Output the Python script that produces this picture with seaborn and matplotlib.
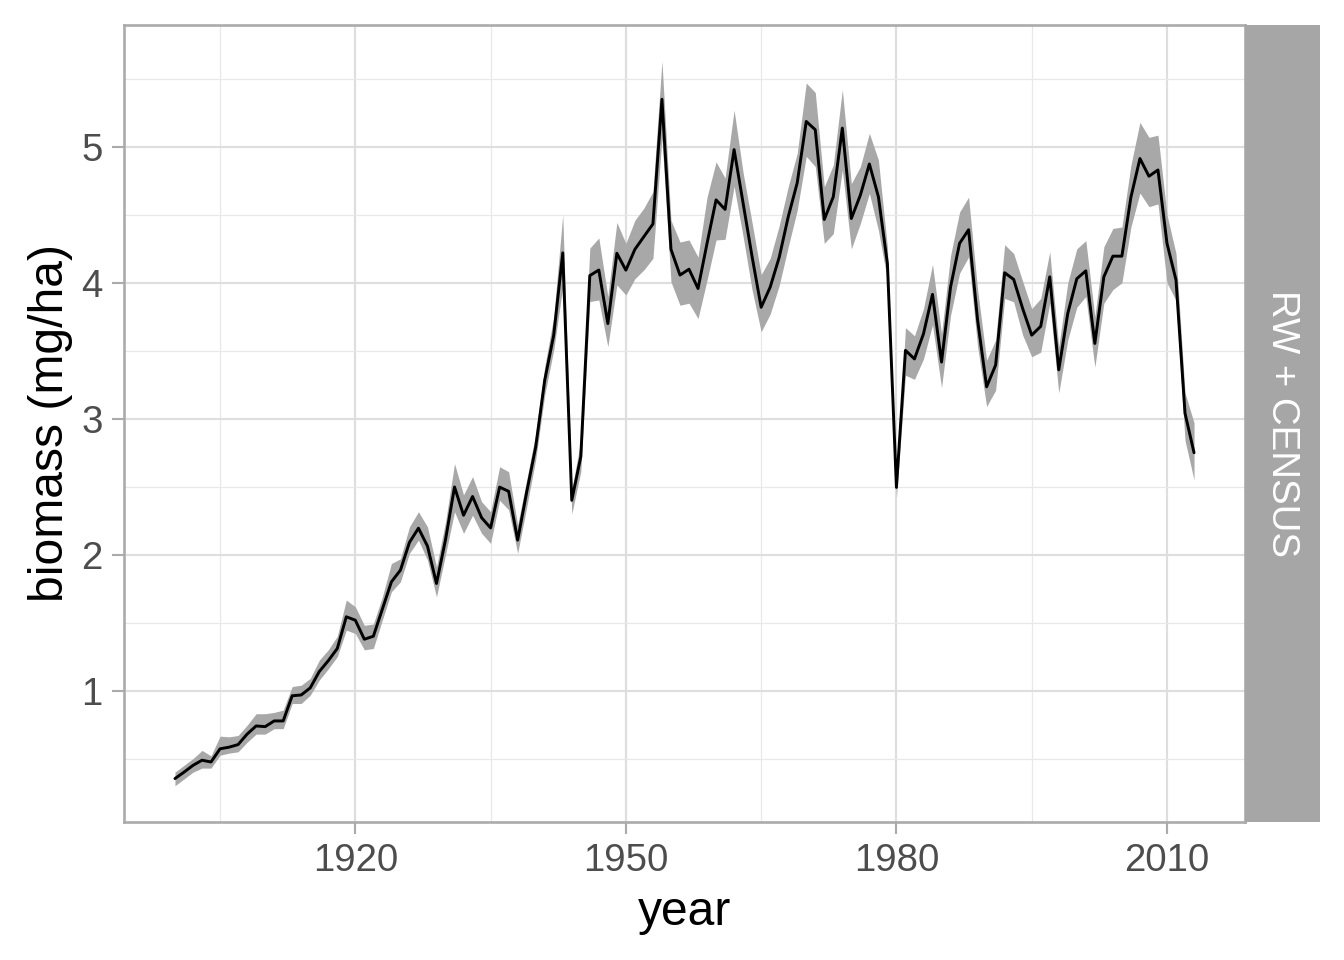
import numpy as np
import pandas as pd
import matplotlib
matplotlib.use("Agg")
import matplotlib.pyplot as plt
import seaborn as sns

# ── data ──────────────────────────────────────────────────────────────────────
years = list(range(1900, 2014))

biomass = [
    0.353, 0.40, 0.45, 0.488, 0.475, 0.572, 0.584, 0.603, 0.68, 0.74,      # 1900s
    0.735, 0.777, 0.777, 0.962, 0.968, 1.02, 1.14, 1.22, 1.31, 1.543,      # 1910s
    1.518, 1.378, 1.40, 1.60, 1.80, 1.886, 2.09, 2.195, 2.063, 1.788,      # 1920s
    2.11, 2.498, 2.29, 2.428, 2.272, 2.197, 2.497, 2.466, 2.107, 2.46,     # 1930s
    2.792, 3.283, 3.616, 4.22, 2.40, 2.72, 4.053, 4.094, 3.70, 4.217,      # 1940s
    4.093, 4.246, 4.34, 4.433, 5.35, 4.246, 4.057, 4.10, 3.958, 4.29,      # 1950s
    4.61, 4.54, 4.98, 4.585, 4.19, 3.82, 3.968, 4.187, 4.485, 4.736,       # 1960s
    5.187, 5.126, 4.466, 4.633, 5.138, 4.473, 4.645, 4.874, 4.633, 4.14,   # 1970s
    2.495, 3.503, 3.44, 3.625, 3.915, 3.417, 3.969, 4.29, 4.39, 3.725,     # 1980s
    3.235, 3.395, 4.074, 4.025, 3.81, 3.615, 3.68, 4.044, 3.36, 3.775,     # 1990s
    4.03, 4.088, 3.554, 4.044, 4.196, 4.196, 4.63, 4.914, 4.784, 4.83,     # 2000s
    4.29, 4.02, 3.04, 2.75,                                                # 2010s
]

lower = [
    0.30, 0.35, 0.40, 0.43, 0.43, 0.525, 0.54, 0.55, 0.62, 0.68,
    0.68, 0.72, 0.72, 0.905, 0.905, 0.966, 1.077, 1.16, 1.25, 1.445,
    1.42, 1.30, 1.31, 1.52, 1.727, 1.80, 2.01, 2.107, 1.96, 1.69,
    2.00, 2.316, 2.157, 2.29, 2.157, 2.083, 2.40, 2.33, 2.01, 2.35,
    2.70, 3.175, 3.506, 3.97, 2.30, 2.61, 3.862, 3.874, 3.53, 3.985,
    3.91, 4.03, 4.095, 4.18, 5.065, 4.007, 3.835, 3.85, 3.737, 4.02,
    4.315, 4.32, 4.71, 4.34, 3.946, 3.64, 3.77, 3.98, 4.264, 4.534,
    4.93, 4.855, 4.29, 4.362, 4.83, 4.25, 4.436, 4.658, 4.387, 4.02,
    2.42, 3.32, 3.29, 3.44, 3.69, 3.23, 3.76, 4.07, 4.19, 3.53,
    3.09, 3.21, 3.885, 3.86, 3.615, 3.456, 3.49, 3.85, 3.19, 3.58,
    3.82, 3.90, 3.38, 3.85, 3.95, 4.00, 4.41, 4.66, 4.56, 4.58,
    4.00, 3.87, 2.84, 2.55,
]

upper = [
    0.40, 0.45, 0.50, 0.56, 0.52, 0.665, 0.66, 0.67, 0.745, 0.83,
    0.83, 0.84, 0.856, 1.03, 1.04, 1.09, 1.224, 1.30, 1.40, 1.666,
    1.617, 1.48, 1.49, 1.69, 1.935, 1.97, 2.205, 2.316, 2.205, 1.91,
    2.24, 2.67, 2.44, 2.574, 2.39, 2.316, 2.647, 2.61, 2.218, 2.55,
    2.89, 3.383, 3.75, 4.50, 2.476, 2.84, 4.255, 4.33, 3.90, 4.444,
    4.29, 4.46, 4.55, 4.67, 5.63, 4.46, 4.30, 4.315, 4.19, 4.63,
    4.89, 4.77, 5.27, 4.81, 4.44, 4.06, 4.18, 4.42, 4.707, 4.953,
    5.47, 5.40, 4.707, 4.867, 5.42, 4.73, 4.855, 5.10, 4.904, 4.26,
    2.51, 3.67, 3.61, 3.81, 4.135, 3.625, 4.20, 4.52, 4.63, 3.95,
    3.43, 3.58, 4.28, 4.216, 4.01, 3.81, 3.885, 4.228, 3.53, 4.00,
    4.25, 4.31, 3.75, 4.265, 4.40, 4.41, 4.865, 5.18, 5.07, 5.086,
    4.50, 4.216, 3.19, 2.97,
]

panel_label = "RW + CENSUS"
x_breaks = [1920, 1950, 1980, 2010]
x_minor = [1905, 1935, 1965, 1995]
y_breaks = [1, 2, 3, 4, 5]
y_minor = [0.5, 1.5, 2.5, 3.5, 4.5, 5.5]

df = pd.DataFrame({"year": years, "biomass": biomass,
                   "lower": lower, "upper": upper})

# ── style ─────────────────────────────────────────────────────────────────────
sns.set_theme(style="white")
plt.rcParams["font.family"] = ["Liberation Sans", "DejaVu Sans"]

BORDER = "#ABABAB"
STRIP = "#A6A6A6"
RIBBON = "#A8A8A8"
GRID_MAJ = "#DEDEDE"
GRID_MIN = "#E8E8E8"

W, H = 1344, 960
fig = plt.figure(figsize=(7, 5), dpi=192)
ax = fig.add_axes([124 / W, 1 - 822 / H, (1245 - 124) / W, (822 - 25) / H])
strip = fig.add_axes([1245 / W, 1 - 822 / H, (1320 - 1245) / W, (822 - 25) / H])

# ── ribbon + line ─────────────────────────────────────────────────────────────
ax.fill_between(df["year"], df["lower"], df["upper"], color=RIBBON,
                linewidth=0, zorder=2)
sns.lineplot(data=df, x="year", y="biomass", color="black", linewidth=1.1,
             ax=ax, zorder=3)

# ggplot-like 5% expansion
xpad = 0.05 * (df["year"].max() - df["year"].min())
ax.set_xlim(df["year"].min() - xpad, df["year"].max() + xpad)
ylo, yhi = df["lower"].min(), df["upper"].max()
ypad = 0.05 * (yhi - ylo)
ax.set_ylim(ylo - ypad, yhi + ypad)

ax.set_xticks(x_breaks)
ax.set_xticks(x_minor, minor=True)
ax.set_yticks(y_breaks)
ax.set_yticks(y_minor, minor=True)
ax.set_yticklabels([str(v) for v in y_breaks])
ax.set_xticklabels([str(v) for v in x_breaks])

ax.grid(which="major", color=GRID_MAJ, linewidth=0.8, zorder=0)
ax.grid(which="minor", color=GRID_MIN, linewidth=0.45, zorder=0)
ax.set_axisbelow(True)

for sp in ax.spines.values():
    sp.set_visible(True)
    sp.set_color(BORDER)
    sp.set_linewidth(1.0)

ax.tick_params(which="major", length=4.5, width=0.8, color=BORDER,
               labelsize=14.4, labelcolor="#4D4D4D", pad=3.5,
               bottom=True, left=True)
ax.tick_params(which="minor", length=0)

ax.set_xlabel("year", fontsize=18, color="black", labelpad=4)
ax.set_ylabel("biomass (mg/ha)", fontsize=18, color="black", labelpad=3)

# ── facet strip ───────────────────────────────────────────────────────────────
strip.set_facecolor(STRIP)
strip.set_xticks([]); strip.set_yticks([])
for sp in strip.spines.values():
    sp.set_visible(False)
strip.text(0.5, 0.5, panel_label, rotation=270, color="white", fontsize=14.4,
           ha="center", va="center", transform=strip.transAxes)

fig.savefig("out.png", dpi=192)
plt.close(fig)
